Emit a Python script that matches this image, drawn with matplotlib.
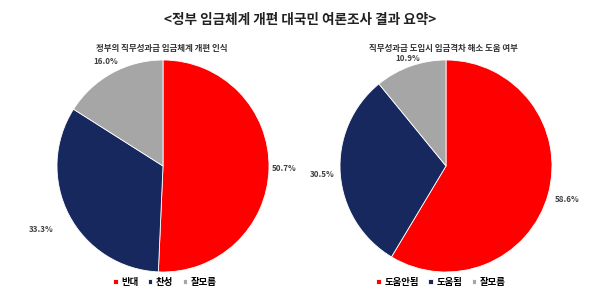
import numpy as np
import matplotlib.pyplot as plt

plt.rcParams['font.family'] = ['Noto Sans CJK KR', 'DejaVu Sans']

title = "<정부 임금체계 개편 대국민 여론조사 결과 요약>"

left_title = "정부의 직무성과급 임금체계 개편 인식"
left_labels = ["반대", "찬성", "잘모름"]
left_values = [50.7, 33.3, 16.0]

right_title = "직무성과급 도입시 임금격차 해소 도움 여부"
right_labels = ["도움안됨", "도움됨", "잘모름"]
right_values = [58.6, 30.5, 10.9]

colors = ["#FF0000", "#16285E", "#A6A6A6"]


def draw_pie(ax, values, labels, dists):
    wedges, _ = ax.pie(values, colors=colors, startangle=90, counterclock=False,
                       radius=1.0, wedgeprops=dict(edgecolor="white", linewidth=0.6))
    for w, v, d in zip(wedges, values, dists):
        mid = np.deg2rad((w.theta1 + w.theta2) / 2)
        ax.text(d * np.cos(mid), d * np.sin(mid), "%.1f%%" % v,
                ha="center", va="center", fontsize=5.8, color="#404040",
                fontweight="bold")
    ax.set_xlim(-1, 1)
    ax.set_ylim(-1, 1)
    ax.set_aspect("equal")
    ax.axis("off")
    return wedges


fig = plt.figure(figsize=(6, 2.98), dpi=100)

ax1 = fig.add_axes([57 / 600, (298 - 272) / 298, 212 / 600, 212 / 298])
w1 = draw_pie(ax1, left_values, left_labels, [1.14, 1.3, 1.13])

ax2 = fig.add_axes([340 / 600, (298 - 272) / 298, 212 / 600, 212 / 298])
w2 = draw_pie(ax2, right_values, right_labels, [1.19, 1.17, 1.08])

fig.text(0.5, 1 - 20 / 298, title, ha="center", va="center",
         fontsize=9.8, fontweight="bold", color="#222222")
fig.text(162 / 600, 1 - 49 / 298, left_title, ha="center", va="center",
         fontsize=6.1, fontweight="bold", color="#333333")
fig.text(443 / 600, 1 - 49 / 298, right_title, ha="center", va="center",
         fontsize=6.1, fontweight="bold", color="#333333")

for wedges, labels, cx in [(w1, left_labels, 165), (w2, right_labels, 441)]:
    fig.legend(wedges, labels, loc="center", bbox_to_anchor=(cx / 600, 1 - 282 / 298),
               ncol=3, frameon=False, handlelength=0.45, handleheight=0.45,
               handletextpad=0.4, columnspacing=1.0,
               prop=dict(weight="bold", size=6.8))

fig.savefig("out.png", dpi=100, facecolor="white")
